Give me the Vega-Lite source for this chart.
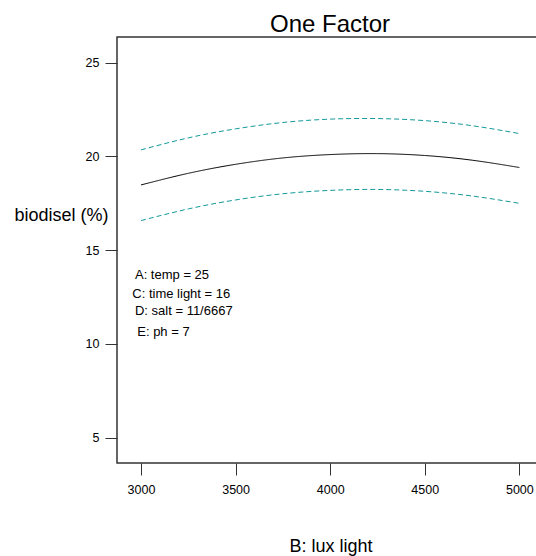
{
  "$schema": "https://vega.github.io/schema/vega-lite/v6.json",
  "autosize": "none",
  "width": 426,
  "height": 426,
  "padding": {"left": 117, "top": 37, "right": 0, "bottom": 93},
  "background": "white",
  "config": {
    "font": "Liberation Sans",
    "view": {"stroke": "#333333", "strokeWidth": 1.5},
    "axis": {"grid": false, "domain": false, "tickColor": "#333333", "tickSize": 12, "tickWidth": 1, "labelFont": "Liberation Sans", "labelFontSize": 12.5, "labelColor": "#000000", "titleFont": "Liberation Sans", "titleFontSize": 18, "titleFontWeight": "normal", "titleColor": "#000000"}
  },
  "title": {"text": "One Factor", "anchor": "middle", "fontSize": 24, "fontWeight": "normal", "font": "Liberation Sans", "color": "#000000", "baseline": "alphabetic", "offset": 3, "dy": 22},
  "datasets": {
    "curves": [
      {"lux": 3000, "biodisel": 18.48, "series": "fit"},
      {"lux": 3250, "biodisel": 19.10, "series": "fit"},
      {"lux": 3500, "biodisel": 19.58, "series": "fit"},
      {"lux": 3750, "biodisel": 19.92, "series": "fit"},
      {"lux": 4000, "biodisel": 20.10, "series": "fit"},
      {"lux": 4250, "biodisel": 20.15, "series": "fit"},
      {"lux": 4500, "biodisel": 20.05, "series": "fit"},
      {"lux": 4750, "biodisel": 19.80, "series": "fit"},
      {"lux": 5000, "biodisel": 19.41, "series": "fit"},
      {"lux": 3000, "biodisel": 20.35, "series": "upper"},
      {"lux": 3250, "biodisel": 20.99, "series": "upper"},
      {"lux": 3500, "biodisel": 21.47, "series": "upper"},
      {"lux": 3750, "biodisel": 21.81, "series": "upper"},
      {"lux": 4000, "biodisel": 21.99, "series": "upper"},
      {"lux": 4250, "biodisel": 22.02, "series": "upper"},
      {"lux": 4500, "biodisel": 21.91, "series": "upper"},
      {"lux": 4750, "biodisel": 21.64, "series": "upper"},
      {"lux": 5000, "biodisel": 21.22, "series": "upper"},
      {"lux": 3000, "biodisel": 16.58, "series": "lower"},
      {"lux": 3250, "biodisel": 17.20, "series": "lower"},
      {"lux": 3500, "biodisel": 17.68, "series": "lower"},
      {"lux": 3750, "biodisel": 18.01, "series": "lower"},
      {"lux": 4000, "biodisel": 18.19, "series": "lower"},
      {"lux": 4250, "biodisel": 18.24, "series": "lower"},
      {"lux": 4500, "biodisel": 18.14, "series": "lower"},
      {"lux": 4750, "biodisel": 17.89, "series": "lower"},
      {"lux": 5000, "biodisel": 17.50, "series": "lower"}
    ],
    "notes": [
      {"lux": 2968, "biodisel": 13.68, "label": "A: temp = 25"},
      {"lux": 2954, "biodisel": 12.67, "label": "C: time light = 16"},
      {"lux": 2968, "biodisel": 11.77, "label": "D: salt = 11/6667"},
      {"lux": 2980, "biodisel": 10.66, "label": "E: ph = 7"}
    ]
  },
  "layer": [
    {
      "data": {"name": "curves"},
      "mark": {"type": "line", "interpolate": "natural", "strokeWidth": 1},
      "encoding": {
        "x": {"field": "lux", "type": "quantitative", "scale": {"domain": [2873, 5125], "nice": false, "zero": false},
          "axis": {"values": [3000, 3500, 4000, 4500, 5000], "format": "d", "labelPadding": 8, "title": "B: lux light", "titleX": 213.5, "titleY": 88, "titleAnchor": null, "titleAlign": "center", "titleBaseline": "alphabetic"}},
        "y": {"field": "biodisel", "type": "quantitative", "scale": {"domain": [3.65, 26.37], "nice": false, "zero": false},
          "axis": {"values": [5, 10, 15, 20, 25], "labelPadding": 6, "title": "biodisel (%)", "titleAngle": 0, "titleX": -56, "titleY": 178, "titleAlign": "center", "titleBaseline": "middle"}},
        "color": {"field": "series", "type": "nominal", "scale": {"domain": ["fit", "upper", "lower"], "range": ["#000000", "#139a9a", "#139a9a"]}, "legend": null},
        "strokeDash": {"field": "series", "type": "nominal", "scale": {"domain": ["fit", "upper", "lower"], "range": [[1, 0], [5, 3], [5, 3]]}, "legend": null}
      }
    },
    {
      "data": {"name": "notes"},
      "mark": {"type": "text", "align": "left", "baseline": "middle", "fontSize": 13, "font": "Liberation Sans", "color": "#000000"},
      "encoding": {
        "x": {"field": "lux", "type": "quantitative"},
        "y": {"field": "biodisel", "type": "quantitative"},
        "text": {"field": "label"}
      }
    }
  ]
}
